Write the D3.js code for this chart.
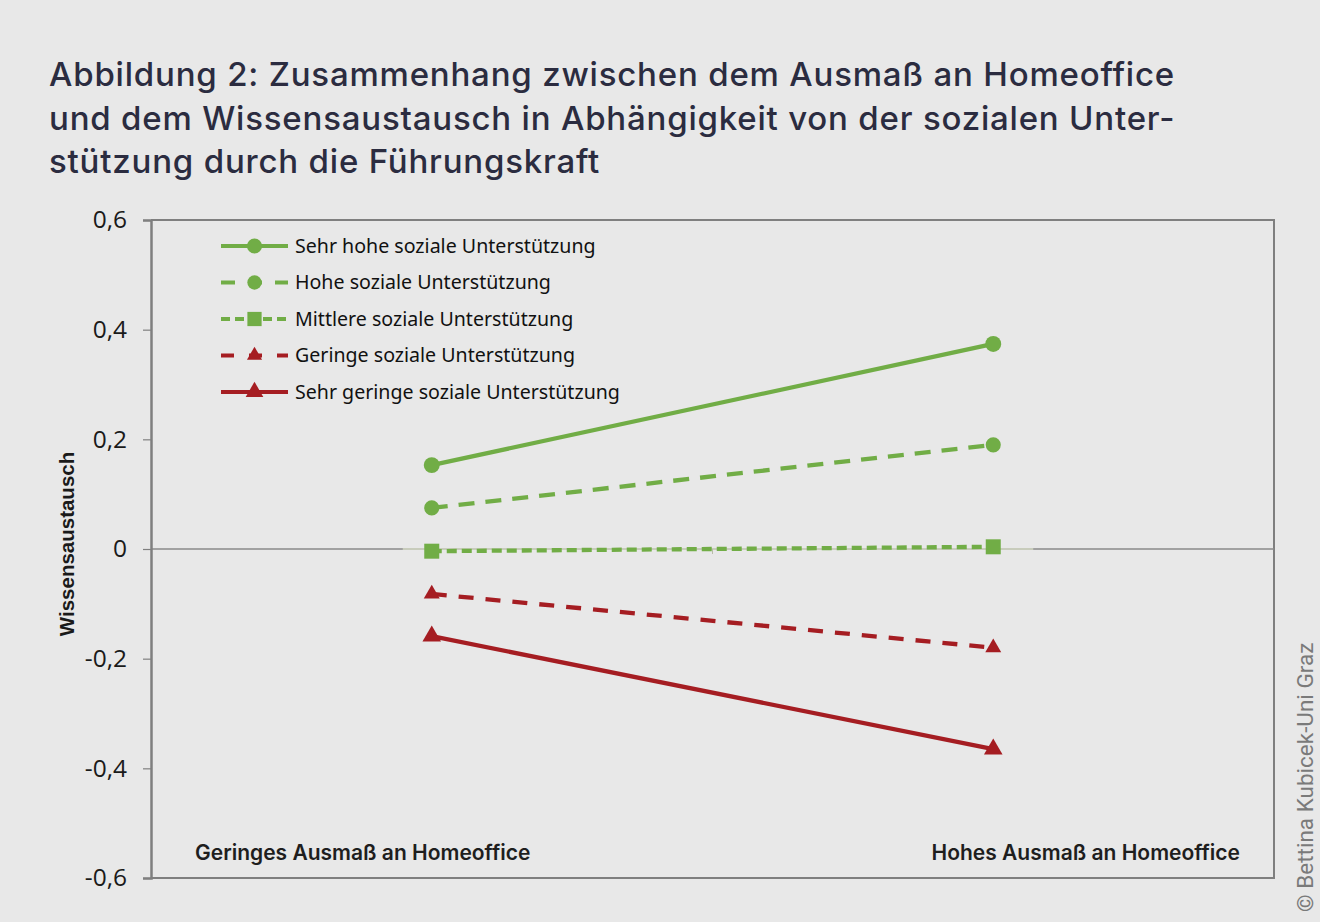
<!DOCTYPE html>
<html>
<head>
<meta charset="utf-8">
<script src="https://cdn.jsdelivr.net/npm/d3@7"></script>
<style>
  body { margin: 0; background: #e8e8e8; }
  svg { display: block; }
</style>
</head>
<body>
<div id="chart"></div>
<script>
// data
const categories = ["Geringes Ausmaß an Homeoffice", "Hohes Ausmaß an Homeoffice"];
const seriesNames = [
  "Sehr hohe soziale Unterstützung",
  "Hohe soziale Unterstützung",
  "Mittlere soziale Unterstützung",
  "Geringe soziale Unterstützung",
  "Sehr geringe soziale Unterstützung"
];
const sehrHoch = [0.153, 0.374];
const hoch = [0.075, 0.19];
const mittel = [-0.004, 0.004];
const gering = [-0.082, -0.18];
const sehrGering = [-0.159, -0.365];
const yTicks = [-0.6, -0.4, -0.2, 0, 0.2, 0.4, 0.6];
const titleLines = [
  "Abbildung 2: Zusammenhang zwischen dem Ausmaß an Homeoffice",
  "und dem Wissensaustausch in Abhängigkeit von der sozialen Unter-",
  "stützung durch die Führungskraft"
];

const green = "#71ad46", red = "#a51d22";
const series = [
  { name: seriesNames[0], values: sehrHoch, color: green, dash: null, symbol: d3.symbolCircle, size: 200 },
  { name: seriesNames[1], values: hoch, color: green, dash: "16,11", symbol: d3.symbolCircle, size: 180 },
  { name: seriesNames[2], values: mittel, color: green, dash: "10,5", symbol: d3.symbolSquare, size: 225 },
  { name: seriesNames[3], values: gering, color: red, dash: "15,12", symbol: d3.symbolTriangle, size: 110 },
  { name: seriesNames[4], values: sehrGering, color: red, dash: null, symbol: d3.symbolTriangle, size: 150 }
];

const W = 1320, H = 922;
const svg = d3.select("#chart").append("svg").attr("width", W).attr("height", H);
svg.append("rect").attr("width", W).attr("height", H).attr("fill", "#e8e8e8");

// title
svg.append("g").selectAll("text").data(titleLines).enter().append("text")
  .attr("x", 49).attr("y", (d, i) => 86 + i * 43.5)
  .attr("font-family", "Inter, sans-serif").attr("font-size", 33).attr("font-weight", 500)
  .attr("letter-spacing", 0.8)
  .attr("fill", "#2b2c40")
  .text(d => d);

const pLeft = 151, pRight = 1274, pTop = 220, pBottom = 878;
const x = d3.scaleBand().domain(categories).range([pLeft, pRight]);
const y = d3.scaleLinear().domain([-0.6, 0.6]).range([pBottom, pTop]);

// frame
svg.append("path")
  .attr("d", `M${pLeft},${pTop}H${pRight}V${pBottom}H${pLeft}`)
  .attr("fill", "none").attr("stroke", "#7f7f7f").attr("stroke-width", 2);

// zero line (category axis)
svg.append("line").attr("x1", pLeft).attr("x2", pRight).attr("y1", y(0)).attr("y2", y(0))
  .attr("stroke", "#8a8a8a").attr("stroke-width", 1.5);
svg.append("line").attr("x1", x(categories[0]) + x.bandwidth() / 2 - 29).attr("x2", x(categories[1]) + x.bandwidth() / 2 + 40)
  .attr("y1", y(0)).attr("y2", y(0))
  .attr("stroke", "#d6dbc6").attr("stroke-width", 1.5);
svg.append("line").attr("x1", x(categories[1])).attr("x2", x(categories[1]))
  .attr("y1", y(0)).attr("y2", y(0) + 5).attr("stroke", "#b8bca8").attr("stroke-width", 1);

// y axis
const yAxis = d3.axisLeft(y).tickValues(yTicks).tickSize(8).tickPadding(16)
  .tickFormat(d => d === 0 ? "0" : String(d).replace(".", ","));
const ga = svg.append("g").attr("transform", `translate(${pLeft},0)`).call(yAxis);
ga.select(".domain").attr("stroke", "#7f7f7f").attr("stroke-width", 2.5);
ga.selectAll(".tick line").attr("stroke", "#7f7f7f").attr("stroke-width", 1.2);
ga.selectAll(".tick text").attr("font-family", "'Open Sans', sans-serif").attr("font-size", 24.5)
  .attr("fill", "#1a1a1a");

svg.append("text")
  .attr("transform", `translate(74,${y(0) - 5}) rotate(-90)`)
  .attr("text-anchor", "middle")
  .attr("font-family", "'Liberation Sans', Arial, sans-serif").attr("font-size", 20.5).attr("font-weight", 700)
  .attr("fill", "#1a1a1a")
  .text("Wissensaustausch");

// category labels
svg.append("text").attr("x", 195).attr("y", 860)
  .attr("font-family", "Inter, sans-serif").attr("font-size", 21).attr("font-weight", 600)
  .attr("fill", "#1e1e1e").text(categories[0]);
svg.append("text").attr("x", 1240).attr("y", 860).attr("text-anchor", "end")
  .attr("font-family", "Inter, sans-serif").attr("font-size", 21).attr("font-weight", 600)
  .attr("fill", "#1e1e1e").text(categories[1]);

// lines and markers
const cx = c => x(c) + x.bandwidth() / 2;
const line = d3.line().x(d => cx(d.cat)).y(d => y(d.v));
const gs = svg.append("g").selectAll("g").data(series).enter().append("g");
gs.append("path")
  .attr("d", s => line(s.values.map((v, i) => ({ cat: categories[i], v: v }))))
  .attr("fill", "none").attr("stroke", s => s.color).attr("stroke-width", 4.3)
  .attr("stroke-dasharray", s => s.dash);
gs.each(function (s) {
  d3.select(this).selectAll(".m").data(s.values).enter().append("path")
    .attr("class", "m")
    .attr("transform", (v, i) => `translate(${cx(categories[i])},${y(v)})`)
    .attr("d", d3.symbol().type(s.symbol).size(s.size))
    .attr("fill", s.color);
});

// legend
const lg = svg.append("g").selectAll("g").data(series).enter().append("g")
  .attr("transform", (s, i) => `translate(221,${246 + i * 36.5})`);
lg.append("line").attr("x1", 0).attr("x2", 67)
  .attr("stroke", s => s.color).attr("stroke-width", 4)
  .attr("stroke-dasharray", (s, i) => i === 1 ? "14,13" : i === 2 ? "9,5" : i === 3 ? "13,15" : null);
lg.append("path").attr("transform", "translate(33.5,0)")
  .attr("d", s => d3.symbol().type(s.symbol).size(s.size * 0.9)())
  .attr("fill", s => s.color);
lg.append("text").attr("x", 74).attr("dy", "0.35em")
  .attr("font-family", "'Noto Sans', sans-serif").attr("font-size", 19.6)
  .attr("fill", "#111").text(s => s.name);

// credit
svg.append("text")
  .attr("transform", "translate(1313,912) rotate(-90)")
  .attr("font-family", "Roboto, sans-serif").attr("font-size", 22.5).attr("fill", "#7a7a7a")
  .text("© Bettina Kubicek-Uni Graz");
</script>
</body>
</html>
